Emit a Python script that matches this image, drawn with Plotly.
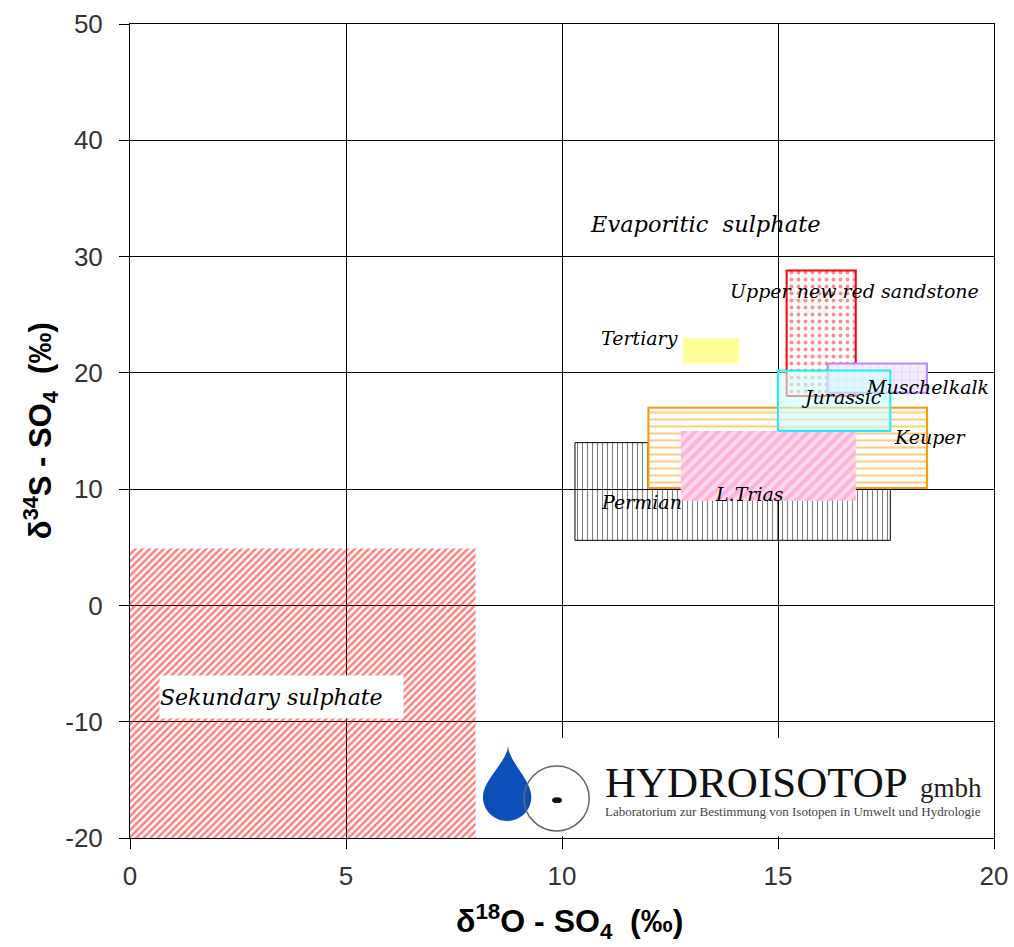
import plotly.graph_objects as go

# ---------------- data ----------------
units = ["Sekundary sulphate", "Permian", "Keuper", "L.Trias", "Tertiary",
         "Upper new red sandstone", "Muschelkalk", "Jurassic"]
o18_min = [0.0, 10.3, 12.0, 12.75, 12.8, 15.2, 16.15, 15.0]
o18_max = [8.0, 17.6, 18.45, 16.8, 14.1, 16.8, 18.45, 17.6]
s34_min = [-20.0, 5.6, 10.1, 9.0, 20.8, 18.0, 18.3, 15.0]
s34_max = [4.9, 14.0, 17.0, 15.0, 23.0, 28.8, 20.8, 20.2]

label_text = ["Evaporitic\u00a0 sulphate", "Upper new red sandstone", "Tertiary",
              "Muschelkalk", "Jurassic", "Keuper", "L.Trias", "Permian"]
label_x = [13.33, 16.78, 11.8, 18.47, 16.46, 18.54, 14.35, 11.85]
label_y = [32.8, 27.0, 23.0, 18.8, 17.9, 14.5, 9.6, 8.9]

sek_label = "Sekundary sulphate"
sek_x = 3.507
sek_y = -7.87

x_ticks = [0, 5, 10, 15, 20]
y_ticks = [-20, -10, 0, 10, 20, 30, 40, 50]

# ---------------- styles ----------------
styles = {
    "Sekundary sulphate": dict(fillpattern=dict(shape="/", fgcolor="#ff0000", bgcolor="rgba(0,0,0,0)", size=5, solidity=0.5),
                               line=dict(width=0)),
    "Permian": dict(fillpattern=dict(shape="|", fgcolor="#000000", bgcolor="rgba(255,255,255,0)", size=5, solidity=0.22),
                    line=dict(color="#000000", width=1)),
    "Keuper": dict(fillpattern=dict(shape="-", fgcolor="#ff9900", bgcolor="#ffffff", size=7, solidity=0.28),
                   line=dict(color="#ff9900", width=2)),
    "L.Trias": dict(fillpattern=dict(shape="/", fgcolor="#ff8cc6", bgcolor="#ffd9ec", size=8, solidity=0.5),
                    line=dict(width=0)),
    "Tertiary": dict(fillcolor="#ffff99", line=dict(width=0)),
    "Upper new red sandstone": dict(fillpattern=dict(shape=".", fgcolor="#ff2020", bgcolor="#ffffff", size=7, solidity=0.25),
                                    line=dict(color="#ff0000", width=2)),
    "Muschelkalk": dict(fillpattern=dict(shape="+", fgcolor="#cfa8ff", bgcolor="#f4edff", size=8, solidity=0.15),
                        line=dict(color="#b98aff", width=2)),
    "Jurassic": dict(fillcolor="rgba(205,255,255,0.6)", line=dict(color="#22eeee", width=2)),
}

fig = go.Figure()

for name, xa, xb, ya, yb in zip(units, o18_min, o18_max, s34_min, s34_max):
    st = styles[name]
    fig.add_trace(go.Scatter(
        x=[xa, xb, xb, xa, xa], y=[ya, ya, yb, yb, ya],
        mode="lines", fill="toself", name=name, showlegend=False,
        hoverinfo="name", **st))

for t, lx, ly in zip(label_text, label_x, label_y):
    size = 22.5 if t.startswith("Evap") else 19
    fig.add_annotation(x=lx, y=ly, text=t, showarrow=False,
                       font=dict(family="DejaVu Serif", size=size, color="#000000", style="italic"))

fig.add_annotation(x=sek_x, y=sek_y, text=sek_label, showarrow=False,
                   width=243, height=42, align="left", bgcolor="#ffffff", borderpad=0,
                   font=dict(family="DejaVu Serif", size=22, color="#000000", style="italic"))

# ---------------- logo ----------------
shapes = [
    dict(type="rect", xref="x", yref="y", x0=8.05, x1=19.95, y0=-19.85, y1=-11.4,
         fillcolor="#ffffff", line=dict(width=0), layer="above"),
    dict(type="path", xref="x", yref="y",
         path="M 8.75,-12.1 C 8.78,-13.5 9.29,-15.0 9.29,-16.47 C 9.29,-17.61 9.04,-18.53 8.73,-18.53 "
              "C 8.42,-18.53 8.17,-17.61 8.17,-16.47 C 8.17,-15.0 8.72,-13.5 8.75,-12.1 Z",
         fillcolor="#0d4fb8", line=dict(width=0), layer="above"),
    dict(type="circle", xref="x", yref="y", x0=9.12, x1=10.63, y0=-19.39, y1=-13.8,
         line=dict(color="#666666", width=1.5), fillcolor="rgba(0,0,0,0)", layer="above"),
    dict(type="circle", xref="x", yref="y", x0=9.77, x1=10.0, y0=-17.0, y1=-16.5,
         line=dict(width=0), fillcolor="#111111", layer="above"),
]
fig.update_layout(shapes=shapes)

fig.add_annotation(x=10.95, y=-15.2, text="HYDROISOTOP", showarrow=False, xanchor="left", yanchor="middle",
                   font=dict(family="Liberation Serif", size=43, color="#111111"))
fig.add_annotation(x=18.25, y=-15.7, text="gmbh", showarrow=False, xanchor="left", yanchor="middle",
                   font=dict(family="Liberation Serif", size=27, color="#222222"))
fig.add_annotation(x=10.95, y=-17.76, text="Laboratorium zur Bestimmung von Isotopen in Umwelt und Hydrologie",
                   showarrow=False, xanchor="left", yanchor="middle",
                   font=dict(family="Liberation Serif", size=13, color="#444444"))

# ---------------- axis titles ----------------
fig.add_annotation(xref="paper", yref="paper", x=0.509, y=-0.103, xanchor="center", yanchor="middle",
                   text="<b>δ<sup>18</sup>O - SO<sub>4</sub>\u00a0 (‰)</b>", showarrow=False,
                   font=dict(family="Liberation Sans", size=32, color="#000000"))
fig.add_annotation(xref="paper", yref="paper", x=-0.104, y=0.5, xanchor="center", yanchor="middle",
                   textangle=-90,
                   text="<b>δ<sup>34</sup>S - SO<sub>4</sub>\u00a0 (‰)</b>", showarrow=False,
                   font=dict(family="Liberation Sans", size=31, color="#000000"))

axis_common = dict(showgrid=True, gridcolor="#000000", gridwidth=1, zeroline=False,
                   showline=True, linecolor="#000000", linewidth=1, mirror=True,
                   ticks="outside", ticklen=10, tickcolor="#000000", automargin=False,
                   tickfont=dict(family="Liberation Sans", size=26, color="#333333"))

fig.update_xaxes(range=[0, 20], tickvals=x_ticks, ticktext=[str(v) for v in x_ticks],
                 ticklabelstandoff=5, **axis_common)
fig.update_yaxes(range=[-20, 50], tickvals=y_ticks, ticktext=[str(v) for v in y_ticks],
                 ticklabelstandoff=11, **axis_common)

fig.update_layout(width=1014, height=947, margin=dict(l=130, r=20, t=24, b=109, autoexpand=False),
                  plot_bgcolor="#ffffff", paper_bgcolor="#ffffff")

fig.write_html("out.html", config={"displayModeBar": False},
               post_script="document.body.style.margin='0px';document.body.style.overflow='hidden';"
                           "document.documentElement.style.overflow='hidden';")
